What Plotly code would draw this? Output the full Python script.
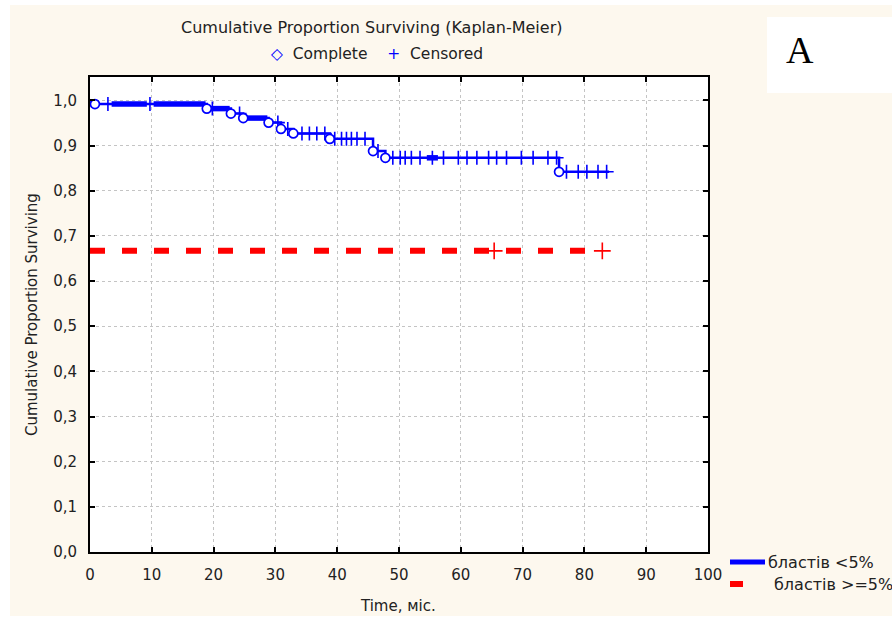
import numpy as np
import plotly.graph_objects as go

# group "бластів <5%": event (complete) times and survival after each event
event_times = [0.8, 18.9, 22.8, 24.8, 28.9, 30.9, 32.9, 38.8, 45.8, 47.8, 75.9]
event_surv = [0.992, 0.982, 0.971, 0.961, 0.951, 0.937, 0.927, 0.915, 0.888, 0.873, 0.842]
censored_times = [2.9, 9.7, 19.8, 24.2, 30.4, 32.0, 34.3, 35.5, 36.7, 38.0, 39.6,
                  40.7, 41.5, 42.3, 43.2, 44.5, 46.6, 49.0, 50.2, 51.0, 52.0, 53.4,
                  55.4, 57.2, 59.6, 61.0, 62.6, 64.5, 65.8, 67.4, 69.8, 71.7, 74.1,
                  75.5, 77.1, 79.0, 80.4, 82.2, 83.6]
last_time = 84.0
# stretches where censored marks pile up into a solid band
dense_from = [3.5, 10.3, 19.3, 25.3, 54.5]
dense_to = [9.2, 18.7, 22.6, 28.7, 56.3]

# group "бластів >=5%"
high_surv = 0.667
high_censored = [65.4, 82.9]
high_last = 82.9

x_ticks = list(range(0, 101, 10))
y_ticks = [round(v * 0.1, 1) for v in range(0, 11)]

BLUE = "#0000FF"
RED = "#FF0000"
FONT = "DejaVu Sans"
TXT = "#222222"


def surv_at(t):
    levels = [1.0] + event_surv
    return levels[np.searchsorted(event_times, t, side="right")]


# step line
xs, ys = [0.0], [1.0]
prev = 1.0
for t, s in zip(event_times, event_surv):
    xs += [t, t]
    ys += [prev, s]
    prev = s
xs.append(last_time)
ys.append(prev)

band_x, band_y = [], []
for a, b in zip(dense_from, dense_to):
    lvl = surv_at((a + b) / 2)
    band_x += [a, b, None]
    band_y += [lvl, lvl, None]

fig = go.Figure()
fig.add_trace(go.Scatter(x=xs, y=ys, mode="lines",
                         line=dict(color=BLUE, width=2.5), showlegend=False))
fig.add_trace(go.Scatter(x=band_x, y=band_y, mode="lines",
                         line=dict(color=BLUE, width=5.5), showlegend=False))
fig.add_trace(go.Scatter(x=censored_times, y=[surv_at(t) for t in censored_times],
                         mode="markers",
                         marker=dict(symbol="cross-thin", size=10,
                                     line=dict(color=BLUE, width=1.6)),
                         showlegend=False))
fig.add_trace(go.Scatter(x=event_times, y=event_surv, mode="markers",
                         marker=dict(symbol="circle", size=9, color="white",
                                     line=dict(color=BLUE, width=1.7)),
                         showlegend=False))

fig.add_trace(go.Scatter(x=[0, high_last], y=[high_surv, high_surv], mode="lines",
                         line=dict(color=RED, width=6, dash="15px,17px"),
                         showlegend=False))
fig.add_trace(go.Scatter(x=high_censored, y=[high_surv] * len(high_censored),
                         mode="markers",
                         marker=dict(symbol="cross-thin", size=12,
                                     line=dict(color=RED, width=1.6)),
                         showlegend=False))

axis_common = dict(showline=True, linecolor="black", linewidth=2, mirror="ticks",
                   ticks="inside", ticklen=5, tickcolor="black", tickwidth=1.5,
                   showgrid=True, gridcolor="#C4C4C4", griddash="dot", gridwidth=1,
                   zeroline=False, tickfont=dict(family=FONT, size=15, color=TXT),
                   ticklabelstandoff=8)

fig.update_xaxes(range=[0, 100], tickvals=x_ticks, **axis_common)
fig.update_yaxes(range=[0, 1.052], tickvals=y_ticks, tickformat=".1f", **axis_common)


def px_x(p):
    return (p - 90) / 618


def px_y(p):
    return (552 - p) / 475


shapes = [
    # white edge strips and the white box holding the panel letter
    dict(type="rect", xref="paper", yref="paper", x0=px_x(0), x1=px_x(10),
         y0=px_y(619), y1=px_y(0), fillcolor="white", line_width=0),
    dict(type="rect", xref="paper", yref="paper", x0=px_x(0), x1=px_x(892),
         y0=px_y(5), y1=px_y(0), fillcolor="white", line_width=0),
    dict(type="rect", xref="paper", yref="paper", x0=px_x(0), x1=px_x(892),
         y0=px_y(619), y1=px_y(616), fillcolor="white", line_width=0),
    dict(type="rect", xref="paper", yref="paper", x0=px_x(767), x1=px_x(892),
         y0=px_y(93), y1=px_y(17), fillcolor="white", line_width=0),
    # bottom-right legend samples
    dict(type="line", xref="paper", yref="paper", x0=px_x(730), x1=px_x(765),
         y0=px_y(562), y1=px_y(562), line=dict(color=BLUE, width=5)),
    dict(type="line", xref="paper", yref="paper", x0=px_x(730), x1=px_x(743),
         y0=px_y(584), y1=px_y(584), line=dict(color=RED, width=6)),
]

annotations = [
    dict(text="Cumulative Proportion Surviving (Kaplan-Meier)", x=px_x(371), y=px_y(28),
         font=dict(family=FONT, size=16, color=TXT)),
    dict(text=f"<span style='color:{BLUE}'>◇</span>  Complete    "
              f"<span style='color:{BLUE}'>+</span>  Censored",
         x=px_x(377), y=px_y(54), font=dict(family=FONT, size=15.5, color=TXT)),
    dict(text="A", x=px_x(800), y=px_y(50),
         font=dict(family="Liberation Serif", size=38, color="black")),
    dict(text="Cumulative Proportion Surviving", x=px_x(32), y=px_y(315), textangle=-90,
         font=dict(family=FONT, size=15, color=TXT)),
    dict(text="Time, міс.", x=px_x(398), y=px_y(606),
         font=dict(family=FONT, size=15, color=TXT)),
    dict(text="бластів <5%", x=px_x(766), y=px_y(562), xanchor="left",
         font=dict(family=FONT, size=16, color=TXT)),
    dict(text="бластів >=5%", x=px_x(772), y=px_y(584), xanchor="left",
         font=dict(family=FONT, size=16, color=TXT)),
]
for a in annotations:
    a.update(xref="paper", yref="paper", showarrow=False)
    a.setdefault("xanchor", "center")
    a.setdefault("yanchor", "middle")

fig.update_layout(
    width=892, height=619,
    margin=dict(l=90, r=184, t=77, b=67),
    paper_bgcolor="#FDF8EE", plot_bgcolor="white",
    separators=", ",
    shapes=shapes, annotations=annotations,
    showlegend=False,
)

fig.write_html("out.html", config={"displayModeBar": False},
               post_script="document.body.style.margin='0';"
                           "document.body.style.overflow='hidden';")
